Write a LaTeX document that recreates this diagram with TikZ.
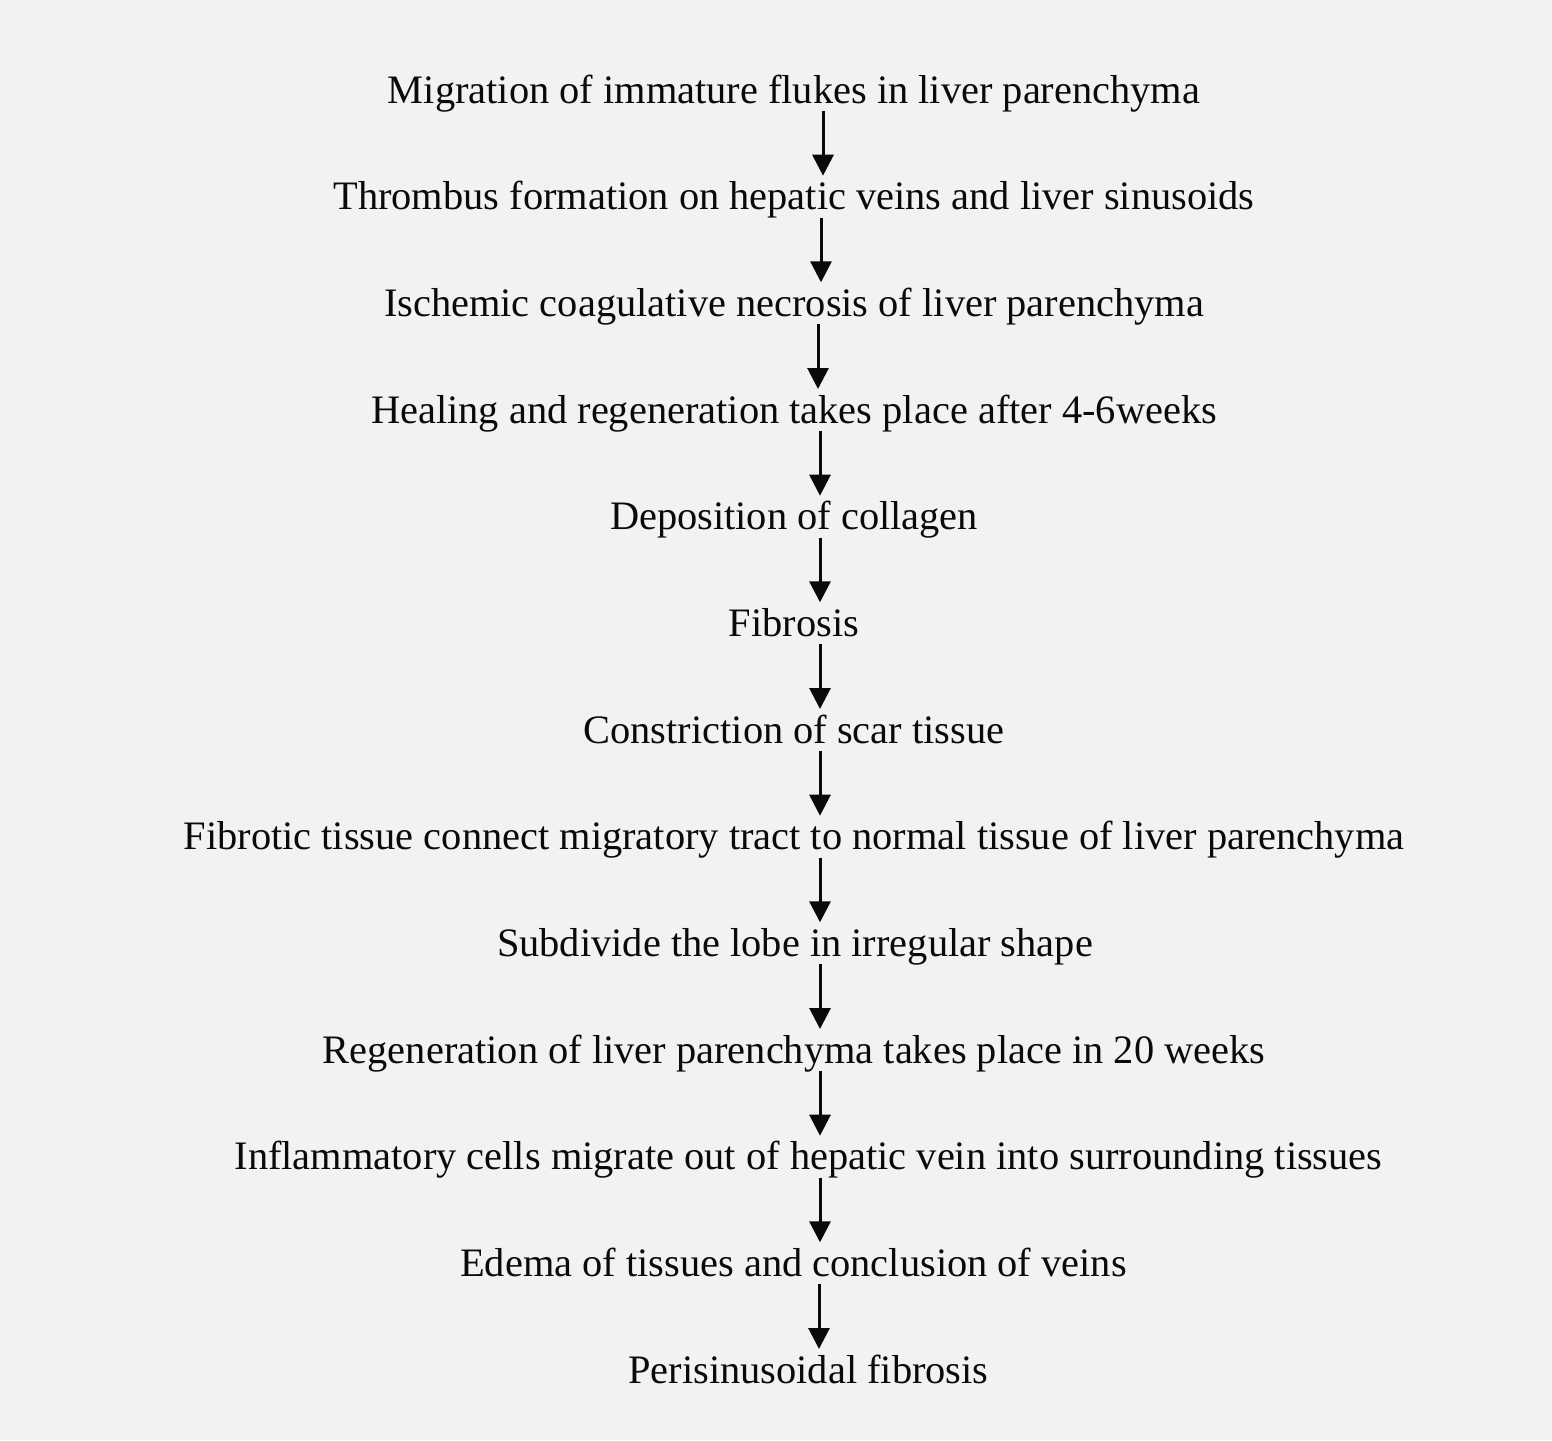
\documentclass[tikz,border=0pt]{standalone}
\usepackage{fontspec}
\setmainfont{Liberation Serif}
\usetikzlibrary{arrows.meta}
\definecolor{bg}{HTML}{F2F2F2}
\definecolor{ink}{HTML}{0A0A0A}
\begin{document}
\begin{tikzpicture}[x=0.5pt,y=-0.5pt,
  lbl/.style={anchor=base,inner sep=0pt,text=ink,font=\fontsize{20.2}{24}\selectfont},
  arr/.style={draw=ink,line width=1.5pt,-{Triangle[width=10.5pt,length=10.5pt]}}]
\fill[bg] (0,0) rectangle (1552,1440);
\useasboundingbox (0,0) rectangle (1552,1440);
\node[lbl] (n1) at (794,103.0) {Migration of immature flukes in liver parenchyma};
\node[lbl] (n2) at (794,209.7) {Thrombus formation on hepatic veins and liver sinusoids};
\node[lbl] (n3) at (794,316.3) {Ischemic coagulative necrosis of liver parenchyma};
\node[lbl] (n4) at (794,423.0) {Healing and regeneration takes place after 4-6weeks};
\node[lbl] (n5) at (794,529.7) {Deposition of collagen};
\node[lbl] (n6) at (794,636.3) {Fibrosis};
\node[lbl] (n7) at (794,743.0) {Constriction of scar tissue};
\node[lbl] (n8) at (794,849.7) {Fibrotic tissue connect migratory tract to normal tissue of liver parenchyma};
\node[lbl] (n9) at (795,956.3) {Subdivide the lobe in irregular shape};
\node[lbl] (n10) at (794,1063.0) {Regeneration of liver parenchyma takes place in 20 weeks};
\node[lbl] (n11) at (808.5,1169.7) {Inflammatory cells migrate out of hepatic vein into surrounding tissues};
\node[lbl] (n12) at (793.5,1276.3) {Edema of tissues and conclusion of veins};
\node[lbl] (n13) at (808.5,1383.0) {Perisinusoidal fibrosis};
\coordinate (c1) at (823,0);
\coordinate (c2) at (821,0);
\coordinate (c3) at (818,0);
\coordinate (c4) at (820,0);
\coordinate (c5) at (820,0);
\coordinate (c6) at (820,0);
\coordinate (c7) at (820,0);
\coordinate (c8) at (820,0);
\coordinate (c9) at (820,0);
\coordinate (c10) at (820,0);
\coordinate (c11) at (820,0);
\coordinate (c12) at (819,0);
\foreach \i [evaluate=\i as \j using int(\i+1)] in {1,...,12}
  \draw[arr] ([yshift=-4pt]n\i.base -| c\i) -- ([yshift=17pt]n\j.base -| c\i);
\end{tikzpicture}
\end{document}
